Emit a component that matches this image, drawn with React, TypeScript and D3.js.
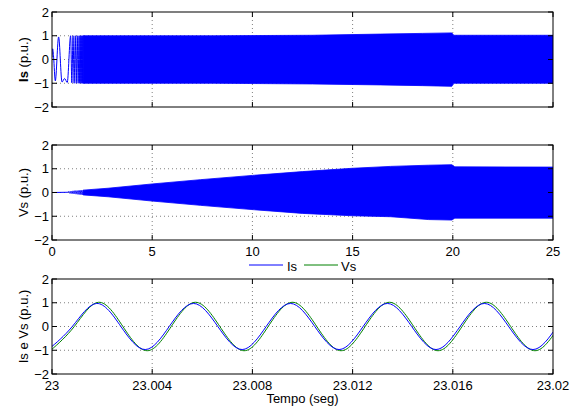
import React from "react";
import * as d3 from "d3";

// ---------- data ----------
const xTicksTop = [0, 5, 10, 15, 20, 25];
const yTicks = [-2, -1, 0, 1, 2];
const xTicksBottom = [23, 23.004, 23.008, 23.012, 23.016, 23.02];
const xTickLabelsBottom = ["23", "23.004", "23.008", "23.012", "23.016", "23.02"];

// Panel 1: Is start-up transient (t, value)
const isTransient: [number, number][] = [
  [0, 0.1], [0.035, 0.45], [0.08, 0.1], [0.165, -0.9], [0.33, 0.95], [0.5, -0.95],
  [0.63, -0.8], [0.76, -0.97], [0.93, 1.0], [0.99, -0.98], [1.05, 1.0], [1.105, -1.0],
  [1.16, 1.0], [1.21, -1.0], [1.26, 1.0], [1.305, -1.0], [1.35, 1.0], [1.38, -1.0],
  [1.41, 1.0], [1.435, -1.0], [1.46, 1.0], [1.485, -1.0], [1.51, 1.0], [1.53, -1.0], [1.55, 1.0],
];
// Panel 1: Is envelope of the dense 50 Hz band (t, upper, lower)
const isEnvelope: [number, number, number][] = [
  [1.55, 1.0, -1.0], [8, 1.0, -1.0], [13, 1.02, -1.03], [16.4, 1.07, -1.07],
  [18.5, 1.1, -1.1], [19.95, 1.12, -1.13], [20.05, 1.02, -1.0], [25, 1.02, -1.0],
];
// Panel 2: Vs start-up (t, value)
const vsTransient: [number, number][] = [
  [0, 0], [0.8, 0.01], [0.85, 0.05], [0.9, -0.04], [0.95, 0.06], [1.0, -0.05],
  [1.05, 0.07], [1.1, -0.06], [1.15, 0.08], [1.2, -0.07], [1.25, 0.08], [1.3, -0.08],
  [1.35, 0.09], [1.4, -0.09], [1.45, 0.1], [1.5, -0.1], [1.55, 0.1],
];
// Panel 2: Vs envelope (t, upper, lower)
const vsEnvelope: [number, number, number][] = [
  [1.55, 0.1, -0.1], [2.8, 0.18, -0.18], [5, 0.36, -0.36], [7.4, 0.54, -0.54],
  [10, 0.72, -0.72], [12.5, 0.88, -0.88], [15, 1.02, -0.98], [16.9, 1.1, -1.02],
  [18.8, 1.15, -1.14], [19.95, 1.17, -1.16], [20.1, 1.08, -1.08], [25, 1.07, -1.08],
];
// Panel 3: zoomed waveforms (t, value) at extrema and zero crossings
const isZoom: [number, number][] = [
  [22.99985, -0.97], [23.00081, 0], [23.00178, 0.97], [23.00275, 0], [23.00372, -0.97],
  [23.00468, 0], [23.00565, 0.97], [23.00662, 0], [23.00759, -0.97], [23.00855, 0],
  [23.00952, 0.97], [23.01049, 0], [23.01146, -0.97], [23.01242, 0], [23.01339, 0.97],
  [23.01436, 0], [23.01533, -0.97], [23.01629, 0], [23.01726, 0.97], [23.01823, 0],
  [23.0192, -0.97], [23.02016, 0],
];
const vsZoom: [number, number][] = [
  [22.99993, -1.02], [23.00089, 0], [23.00186, 1.02], [23.00283, 0], [23.0038, -1.02],
  [23.00476, 0], [23.00573, 1.02], [23.0067, 0], [23.00767, -1.02], [23.00863, 0],
  [23.0096, 1.02], [23.01057, 0], [23.01154, -1.02], [23.0125, 0], [23.01347, 1.02],
  [23.01444, 0], [23.01541, -1.02], [23.01637, 0], [23.01734, 1.02], [23.01831, 0],
  [23.01928, -1.02], [23.02024, 0],
];

// ---------- layout ----------
const W = 574;
const H = 410;
const X0 = 52;
const X1 = 553;
const panels = [
  { top: 12, bottom: 107 },
  { top: 145, bottom: 240 },
  { top: 279, bottom: 374 },
];
const FONT = "'Liberation Sans', Arial, Helvetica, sans-serif";
const FS = 13;
const BLUE = "#0000ff";
const GREEN = "#008000";
const fmtMinus = (v: number) => (v < 0 ? "\u2212" + Math.abs(v) : String(v));

function Frame({ top, bottom, x, xt, xLabels, id }: any) {
  const y = d3.scaleLinear().domain([-2, 2]).range([bottom, top]);
  return (
    <g>
      {/* grid */}
      {xt.slice(1, -1).map((t: number, i: number) => (
        <line key={"gx" + i} x1={x(t)} x2={x(t)} y1={top} y2={bottom} stroke="#808080" strokeWidth={1} strokeDasharray="1,3" />
      ))}
      {yTicks.slice(1, -1).map((t, i) => (
        <line key={"gy" + i} x1={X0} x2={X1} y1={y(t)} y2={y(t)} stroke="#808080" strokeWidth={1} strokeDasharray="1,3" />
      ))}
      <defs>
        <clipPath id={id}>
          <rect x={X0} y={top} width={X1 - X0} height={bottom - top} />
        </clipPath>
      </defs>
    </g>
  );
}

function Axes({ top, bottom, x, xt, xLabels }: any) {
  const y = d3.scaleLinear().domain([-2, 2]).range([bottom, top]);
  const tl = 5;
  return (
    <g fontFamily={FONT} fontSize={FS} fill="#000">
      <rect x={X0} y={top} width={X1 - X0} height={bottom - top} fill="none" stroke="#000" strokeWidth={1} />
      {xt.map((t: number, i: number) => (
        <g key={"xt" + i}>
          <line x1={x(t)} x2={x(t)} y1={bottom} y2={bottom - tl} stroke="#000" />
          <line x1={x(t)} x2={x(t)} y1={top} y2={top + tl} stroke="#000" />
        </g>
      ))}
      {yTicks.map((t, i) => (
        <g key={"yt" + i}>
          <line x1={X0} x2={X0 + tl} y1={y(t)} y2={y(t)} stroke="#000" />
          <line x1={X1} x2={X1 - tl} y1={y(t)} y2={y(t)} stroke="#000" />
          <text x={X0 - 3} y={y(t) + 4.5} textAnchor="end">{fmtMinus(t)}</text>
        </g>
      ))}
      {xLabels &&
        xt.map((t: number, i: number) => (
          <text key={"xl" + i} x={x(t)} y={bottom + 15.5} textAnchor="middle">{xLabels[i]}</text>
        ))}
    </g>
  );
}

export default function App() {
  const xa = d3.scaleLinear().domain([0, 25]).range([X0, X1]);
  const xb = d3.scaleLinear().domain([23, 23.02]).range([X0, X1]);
  const y1 = d3.scaleLinear().domain([-2, 2]).range([panels[0].bottom, panels[0].top]);
  const y2 = d3.scaleLinear().domain([-2, 2]).range([panels[1].bottom, panels[1].top]);
  const y3 = d3.scaleLinear().domain([-2, 2]).range([panels[2].bottom, panels[2].top]);

  const lineT1 = d3.line<[number, number]>().x((d) => xa(d[0])).y((d) => y1(d[1])).curve(d3.curveMonotoneX);
  const area1 = d3.area<[number, number, number]>().x((d) => xa(d[0])).y0((d) => y1(d[2])).y1((d) => y1(d[1]));
  const lineT2 = d3.line<[number, number]>().x((d) => xa(d[0])).y((d) => y2(d[1])).curve(d3.curveMonotoneX);
  const area2 = d3.area<[number, number, number]>().x((d) => xa(d[0])).y0((d) => y2(d[2])).y1((d) => y2(d[1]));
  const line3 = d3.line<[number, number]>().x((d) => xb(d[0])).y((d) => y3(d[1])).curve(d3.curveNatural);

  const labels = [
    { text: "Is (p.u.)", p: panels[0], bold: true },
    { text: "Vs (p.u.)", p: panels[1], bold: false },
    { text: "Is e Vs (p.u.)", p: panels[2], bold: false },
  ];

  return (
    <svg width={W} height={H} style={{ position: "absolute", left: 0, top: 0, background: "#fff" }}>
      <rect x={0} y={0} width={W} height={H} fill="#fff" />
      {/* Panel 1 */}
      <Frame {...panels[0]} x={xa} xt={xTicksTop} id="c1" />
      <g clipPath="url(#c1)">
        <path d={area1(isEnvelope) || ""} fill={BLUE} stroke={BLUE} strokeWidth={0.8} />
        <path d={lineT1(isTransient) || ""} fill="none" stroke={BLUE} strokeWidth={1} />
      </g>
      <Axes {...panels[0]} x={xa} xt={xTicksTop} xLabels={null} />

      {/* Panel 2 */}
      <Frame {...panels[1]} x={xa} xt={xTicksTop} id="c2" />
      <g clipPath="url(#c2)">
        <path d={area2(vsEnvelope) || ""} fill={BLUE} stroke={BLUE} strokeWidth={0.8} />
        <path d={lineT2(vsTransient) || ""} fill="none" stroke={BLUE} strokeWidth={1} />
      </g>
      <Axes {...panels[1]} x={xa} xt={xTicksTop} xLabels={xTicksTop.map(String)} />

      {/* Panel 3 */}
      <Frame {...panels[2]} x={xb} xt={xTicksBottom} id="c3" />
      <g clipPath="url(#c3)">
        <path d={line3(vsZoom) || ""} fill="none" stroke={GREEN} strokeWidth={1} />
        <path d={line3(isZoom) || ""} fill="none" stroke={BLUE} strokeWidth={1} />
      </g>
      <Axes {...panels[2]} x={xb} xt={xTicksBottom} xLabels={xTickLabelsBottom} />

      {/* y labels */}
      {labels.map((l, i) => {
        const cy = (l.p.top + l.p.bottom) / 2;
        const parts = l.text.split(" ");
        return (
          <text key={i} transform={`translate(28,${cy}) rotate(-90)`} textAnchor="middle" fontFamily={FONT} fontSize={FS}>
            {l.bold ? (
              <>
                <tspan fontWeight="bold">{parts[0]}</tspan>
                <tspan>{" " + parts.slice(1).join(" ")}</tspan>
              </>
            ) : (
              l.text
            )}
          </text>
        );
      })}

      {/* x label */}
      <text x={(X0 + X1) / 2} y={403} textAnchor="middle" fontFamily={FONT} fontSize={FS}>Tempo (seg)</text>

      {/* legend */}
      <g fontFamily={FONT} fontSize={FS}>
        <line x1={249} x2={283} y1={265} y2={265} stroke={BLUE} strokeWidth={1} />
        <text x={287} y={270.5}>Is</text>
        <line x1={304} x2={338} y1={265} y2={265} stroke={GREEN} strokeWidth={1} />
        <text x={341} y={270.5}>Vs</text>
      </g>
    </svg>
  );
}
